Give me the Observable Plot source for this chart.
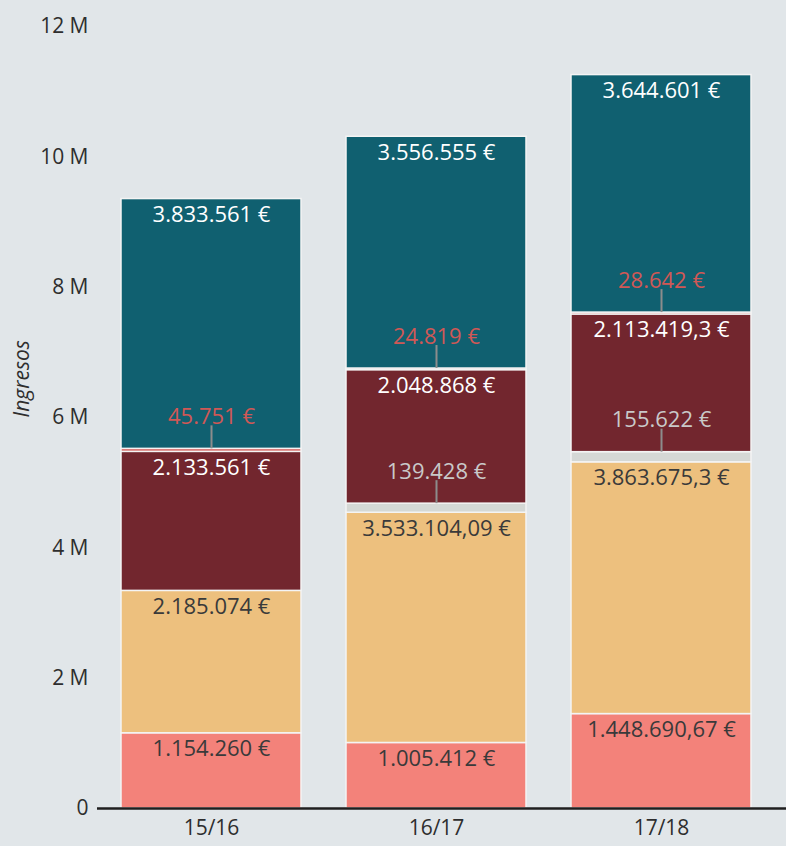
<!DOCTYPE html>
<html>
<head>
<meta charset="utf-8">
<script src="https://cdn.jsdelivr.net/npm/d3@7"></script>
<script src="https://cdn.jsdelivr.net/npm/@observablehq/plot@0.6"></script>
<style>
  html, body { margin: 0; padding: 0; background: #e1e6e9; }
</style>
</head>
<body>
<div id="chart"></div>
<script>
// ---- data ----
const years = ["15/16", "16/17", "17/18"];
const categories = ["Serie 1", "Serie 2", "Serie 3", "Serie 4", "Serie 5", "Serie 6"]; // bottom → top
const serie1 = [1154260, 1005412, 1448690.67];
const serie2 = [2185074, 3533104.09, 3863675.3];
const serie3 = [0, 139428, 155622];
const serie4 = [2133561, 2048868, 2113419.3];
const serie5 = [45751, 24819, 28642];
const serie6 = [3833561, 3556555, 3644601];
const yTicks = [0, 2e6, 4e6, 6e6, 8e6, 10e6, 12e6];
const yLabel = "Ingresos";

const colors = ["#f3827a", "#edc07e", "#d5d8d5", "#72262e", "#d25a58", "#106070"];

// ---- build stacked rows ----
const seriesValues = [serie1, serie2, serie3, serie4, serie5, serie6];
const rows = [];
years.forEach((year, i) => {
  let acc = 0;
  categories.forEach((cat, c) => {
    const v = seriesValues[c][i];
    rows.push({year, cat, ci: c, value: v, y1: acc, y2: acc + v});
    acc += v;
  });
});

const locale = d3.formatLocale({decimal: ",", thousands: ".", grouping: [3], currency: ["", " €"]});
const fmt = locale.format(",.2~f");
const label = d => fmt(d.value) + " €";

const darkLabels = rows.filter(d => d.ci === 0 || d.ci === 1);
const lightLabels = rows.filter(d => d.ci === 3 || d.ci === 5);
const redLabels = rows.filter(d => d.ci === 4 && d.value > 0);
const grayLabels = rows.filter(d => d.ci === 2 && d.value > 0);
const smallRows = rows.filter(d => (d.ci === 2 || d.ci === 4) && d.value > 0);

const chart = Plot.plot({
  width: 786,
  height: 846,
  marginTop: 26,
  marginBottom: 38,
  marginLeft: 97,
  marginRight: 0,
  style: {background: "#e1e6e9", fontFamily: "'Open Sans', sans-serif", fontSize: "21px", color: "#2e2e2e"},
  x: {domain: years, paddingInner: 0.2, paddingOuter: 0.128, align: 0.4, label: null},
  y: {domain: [0, 12e6], label: null},
  color: {domain: categories, range: colors},
  marks: [
    Plot.rectY(rows.filter(d => d.value > 0), {x: "year", y1: "y1", y2: "y2", fill: "cat", stroke: "#f4f4f4", strokeWidth: 1.5}),
    Plot.ruleX(smallRows, {x: "year", y1: "y2", y2: "y2", stroke: "#8c8c8c", strokeWidth: 2, insetBottom: 23}),
    Plot.text(darkLabels, {x: "year", y: "y2", text: label, dy: 16, fill: "#3a3a3a", fontSize: 22}),
    Plot.text(lightLabels, {x: "year", y: "y2", text: label, dy: 16, fill: "#ffffff", fontSize: 22}),
    Plot.text(redLabels, {x: "year", y: "y2", text: label, dy: -32, fill: "#d05856", fontSize: 22}),
    Plot.text(grayLabels, {x: "year", y: "y2", text: label, dy: -32, fill: "#c9c9c9", fontSize: 22}),
    Plot.axisY({ticks: yTicks, tickFormat: d => d === 0 ? "0" : (d / 1e6) + " M", tickSize: 0, tickPadding: 9, label: null}),
    Plot.axisX({tickSize: 0, tickPadding: 12, label: null}),
    Plot.ruleY([0], {stroke: "#1f1f1f", strokeWidth: 2.5}),
    Plot.text([yLabel], {frameAnchor: "left", rotate: -90, dx: -75, fontStyle: "italic", fill: "#2e2e2e"})
  ]
});
document.getElementById("chart").append(chart);
</script>
</body>
</html>
